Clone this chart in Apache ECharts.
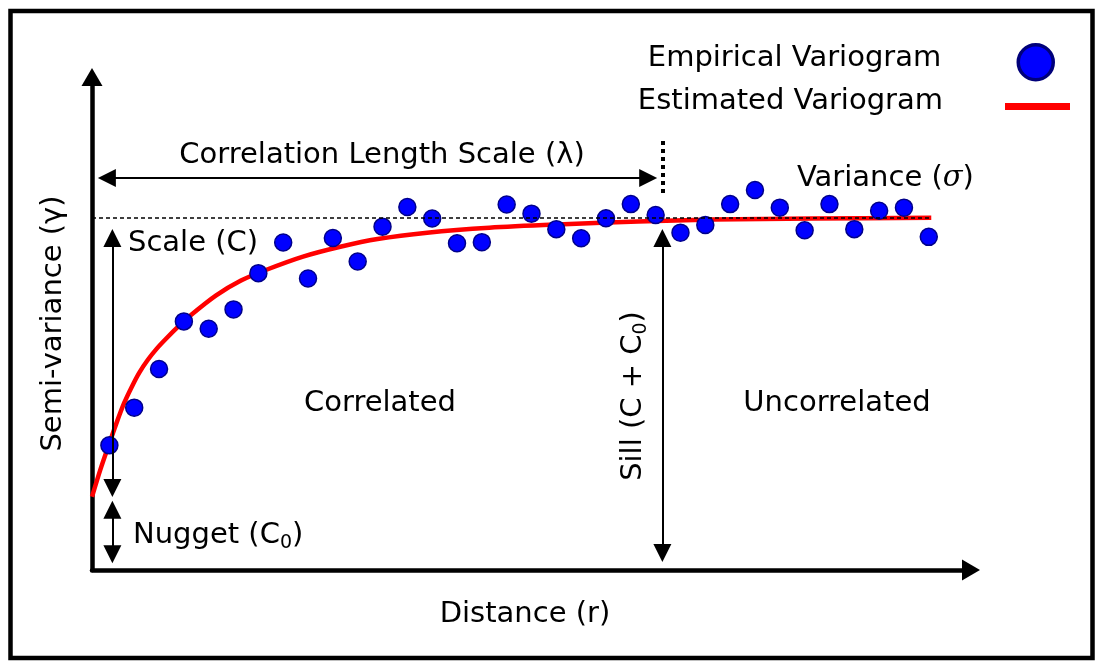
<!DOCTYPE html>
<html>
<head>
<meta charset="utf-8">
<script src="https://cdn.jsdelivr.net/npm/echarts@6/dist/echarts.min.js"></script>
<style>
  html, body { margin: 0; padding: 0; background: #fff; }
  #chart { width: 1095px; height: 661px; }
</style>
</head>
<body>
<div id="chart"></div>
<script>
// Empirical semi-variance at each lag distance
const lagDistance = [0.7, 1.7, 2.7, 3.7, 4.7, 5.7, 6.7, 7.7, 8.7, 9.7, 10.7, 11.7,
  12.7, 13.7, 14.7, 15.7, 16.7, 17.7, 18.7, 19.7, 20.7, 21.7, 22.7, 23.7,
  24.7, 25.7, 26.7, 27.7, 28.7, 29.7, 30.7, 31.7, 32.7, 33.7];
const empiricalGamma = [3.54, 4.61, 5.71, 7.06, 6.85, 7.40, 8.43, 9.30, 8.28, 9.43, 8.76, 9.75,
  10.31, 9.98, 9.28, 9.31, 10.38, 10.12, 9.68, 9.42, 9.99, 10.39, 10.08, 9.58,
  9.80, 10.39, 10.79, 10.29, 9.65, 10.39, 9.68, 10.20, 10.29, 9.46];

// Fitted variogram model, sampled along the distance axis
const modelDistance = [0, 0.35, 0.7, 1.0, 1.3, 1.6, 1.9, 2.25, 2.6, 3.0, 3.5, 4.0,
  5.0, 6.0, 7.0, 8.5, 10, 11.5, 13.5, 16, 19, 22, 25, 29, 33.8];
const modelGamma = [2.08, 2.88, 3.6, 4.2, 4.75, 5.2, 5.6, 5.97, 6.28, 6.58, 6.93, 7.25,
  7.8, 8.22, 8.52, 8.9, 9.18, 9.4, 9.58, 9.72, 9.82, 9.9, 9.95, 9.98, 10.0];

// Sill level and the extent of its reference line
const sillValue = 10;
const sillLineEnd = 33.8;

// Annotation arrows in data units: [start, end]
const lengthScaleArrow = [[0.6, 11.13], [22.4, 11.13]];
const rangeMarker = [[22.97, 12.18], [22.97, 10.62]];
const sillArrow = [[22.97, 9.43], [22.97, 0.48]];
const scaleArrow = [[0.82, 9.43], [0.82, 2.33]];
const nuggetArrow = [[0.82, 1.71], [0.82, 0.45]];

const FONT = 'DejaVu Sans';
const FS = 29;

const chart = echarts.init(document.getElementById('chart'), null, { renderer: 'canvas' });

function arrow(pair) {
  return [{ coord: pair[0] }, { coord: pair[1] }];
}

function label(x, y, text, extra) {
  return {
    type: 'text', x: x, y: y, silent: true, z: 10,
    style: Object.assign({
      text: text, fontFamily: FONT, fontSize: FS, fill: '#000',
      align: 'center', verticalAlign: 'middle',
      rich: {
        sub: { fontFamily: FONT, fontSize: 19, fill: '#000', padding: [17, 0, 0, 0] },
        sig: { fontFamily: 'DejaVu Serif', fontStyle: 'italic', fontSize: FS, fill: '#000' }
      }
    }, extra || {})
  };
}

const axisText = { fontFamily: FONT, fontSize: FS, color: '#000' };

// Legend entry text, raised above the icon centre by half of the bottom padding
function legendText(rightGap, raise) {
  return {
    fontFamily: FONT, fontSize: FS, color: '#000',
    rich: {
      t: { fontFamily: FONT, fontSize: FS, color: '#000', lineHeight: 30,
        padding: [0, rightGap, raise * 2, 0] }
    }
  };
}

const option = {
  animation: false,
  backgroundColor: '#fff',
  grid: { left: 92, right: 124, top: 77, bottom: 91, outerBoundsMode: 'none' },
  xAxis: {
    type: 'value', min: 0, max: 35.4,
    name: 'Distance (r)', nameLocation: 'middle', nameGap: 30,
    nameTextStyle: Object.assign({ padding: [0, 13, 0, 0] }, axisText),
    axisLine: { show: true, onZero: false, symbol: ['none', 'triangle'], symbolSize: [21, 18],
      lineStyle: { color: '#000', width: 4.5 } },
    axisTick: { show: false }, axisLabel: { show: false }, splitLine: { show: false }
  },
  yAxis: {
    type: 'value', min: 0, max: 14,
    name: 'Semi-variance (γ)', nameLocation: 'middle', nameGap: 24,
    nameTextStyle: axisText,
    axisLine: { show: true, onZero: false, symbol: ['none', 'triangle'], symbolSize: [21, 18],
      lineStyle: { color: '#000', width: 4.5 } },
    axisTick: { show: false }, axisLabel: { show: false }, splitLine: { show: false }
  },
  legend: [
    {
      data: [{ name: 'Empirical Variogram', icon: 'circle' }],
      formatter: '{t|{name}}',
      right: 40, top: 43, padding: 0, align: 'right', orient: 'vertical',
      itemWidth: 35, itemHeight: 35, selectedMode: false,
      itemStyle: { borderColor: '#00007a', borderWidth: 3.5 },
      textStyle: legendText(72, 3.7)
    },
    {
      data: [{ name: 'Estimated Variogram', icon: 'rect' }],
      formatter: '{t|{name}}',
      right: 25, top: 86.5, padding: 0, align: 'right', orient: 'vertical',
      itemWidth: 65, itemHeight: 7, selectedMode: false,
      itemStyle: { borderWidth: 0 },
      textStyle: legendText(57, 5.5)
    }
  ],
  series: [
    {
      name: 'Estimated Variogram', type: 'line', z: 2, silent: true,
      data: modelDistance.map((d, i) => [d, modelGamma[i]]),
      smooth: 0.3, symbol: 'none', showSymbol: false,
      lineStyle: { color: '#ff0000', width: 4.5 }, itemStyle: { color: '#ff0000' }
    },
    {
      name: 'sill', type: 'line', z: 3, silent: true, data: [],
      markLine: {
        silent: true, symbol: ['none', 'none'], label: { show: false },
        lineStyle: { color: '#000', width: 1.5, type: [4, 3] },
        data: [[{ coord: [0, sillValue] }, { coord: [sillLineEnd, sillValue] }]]
      }
    },
    {
      name: 'Empirical Variogram', type: 'scatter', z: 4, silent: true,
      data: lagDistance.map((d, i) => [d, empiricalGamma[i]]),
      symbol: 'circle', symbolSize: 17,
      itemStyle: { color: '#0000ff', borderColor: '#00008b', borderWidth: 1.5, opacity: 1 }
    },
    {
      name: 'annotations', type: 'line', z: 5, silent: true, data: [],
      markLine: {
        silent: true, symbol: ['triangle', 'triangle'], symbolSize: 18,
        label: { show: false },
        lineStyle: { color: '#000', width: 2, type: 'solid' },
        emphasis: { disabled: true },
        data: [
          arrow(lengthScaleArrow),
          arrow(sillArrow),
          arrow(scaleArrow),
          arrow(nuggetArrow),
          [
            { coord: rangeMarker[0], symbol: 'none', lineStyle: { width: 4, type: [4, 4], cap: 'butt' } },
            { coord: rangeMarker[1], symbol: 'none' }
          ]
        ]
      }
    }
  ],
  graphic: [
    {
      type: 'rect', silent: true, z: 0,
      shape: { x: 10.5, y: 11, width: 1082, height: 647 },
      style: { fill: 'none', stroke: '#000', lineWidth: 4.5 }
    },
    label(382, 155, 'Correlation Length Scale (λ)'),
    label(797, 178, 'Variance ({sig|σ})', { align: 'left' }),
    label(128, 243, 'Scale (C)', { align: 'left' }),
    label(380, 403, 'Correlated'),
    label(837, 403, 'Uncorrelated'),
    label(133, 535, 'Nugget (C{sub|0})', { align: 'left' }),
    Object.assign(label(633, 396, 'Sill (C + C{sub|0})'), { rotation: Math.PI / 2 })
  ]
};

chart.setOption(option);
</script>
</body>
</html>
